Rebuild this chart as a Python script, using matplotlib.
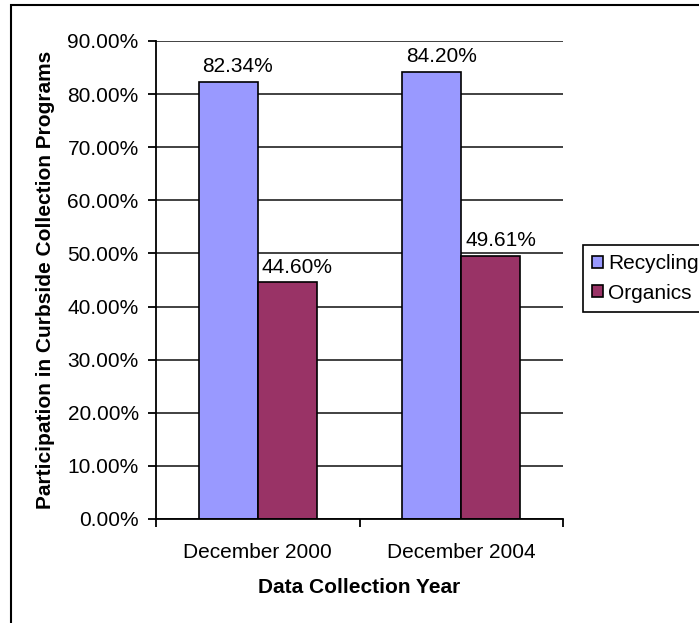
import matplotlib
matplotlib.use("Agg")
import matplotlib.pyplot as plt
from matplotlib.patches import Rectangle
from matplotlib.ticker import FuncFormatter

plt.rcParams['font.family'] = ['Liberation Sans', 'DejaVu Sans']

# data
categories = ['December 2000', 'December 2004']
series_names = ['Recycling', 'Organics']
recycling = [82.34, 84.20]
organics = [44.60, 49.61]
y_ticks = [0, 10, 20, 30, 40, 50, 60, 70, 80, 90]

colors = ['#9999FF', '#993366']
fs = 15

fig = plt.figure(figsize=(6.99, 6.23), dpi=100)
ax = fig.add_axes([156 / 699, 1 - 519 / 623, (563 - 156) / 699, (519 - 41) / 623])

width = 0.29
x = range(len(categories))
bars = []
for i, (vals, name) in enumerate(zip([recycling, organics], series_names)):
    offs = (i - 0.5) * width
    b = ax.bar([xi + offs for xi in x], vals, width=width, color=colors[i],
               edgecolor='black', linewidth=1.2, label=name, zorder=3)
    bars.append(b)
    for rect, v in zip(b, vals):
        ax.annotate(f'{v:.2f}%', (rect.get_x() + rect.get_width() / 2, v),
                    xytext=(7, 4), textcoords='offset points',
                    ha='center', va='bottom', fontsize=fs, zorder=4)

ax.set_xlim(-0.5, 1.5)
ax.set_ylim(0, 90)
ax.set_yticks(y_ticks)
ax.yaxis.set_major_formatter(FuncFormatter(lambda v, p: f'{v:.2f}%'))
ax.yaxis.grid(True, color='#333333', linewidth=1.3, zorder=0)
ax.set_xticks([-0.5, 0.5, 1.5])
ax.set_xticklabels([])
ax.set_xticks([0, 1], minor=True)
ax.set_xticklabels(categories, minor=True)
ax.tick_params(axis='x', which='minor', length=0, labelsize=fs, pad=17)
ax.tick_params(axis='x', which='major', length=6, width=1.3, direction='out')
ax.tick_params(axis='y', length=6, width=1.3, direction='out', labelsize=fs, pad=6.5)

for s in ['top', 'right']:
    ax.spines[s].set_visible(False)
for s in ['left', 'bottom']:
    ax.spines[s].set_linewidth(1.3)
    ax.spines[s].set_zorder(5)

ax.set_xlabel('Data Collection Year', fontsize=fs, fontweight='bold')
ax.xaxis.set_label_coords(0.5, (519 - 578) / 478)
ax.set_ylabel('Participation in Curbside Collection Programs', fontsize=fs,
              fontweight='bold')
ax.yaxis.set_label_coords((55 - 156) / 407, 0.5)

leg = fig.legend(handles=bars, labels=series_names, loc='upper left',
                 bbox_to_anchor=(583 / 699, 1 - 245 / 623), fontsize=fs,
                 handlelength=0.5, handleheight=0.5, handletextpad=0.25,
                 borderpad=0.45, labelspacing=0.5, borderaxespad=0,
                 fancybox=False, framealpha=1)
leg.get_frame().set_edgecolor('black')
leg.get_frame().set_linewidth(1.2)

# outer chart border, cut off at the right and bottom like the original
fig.patches.append(Rectangle((11 / 699, -0.1), 1.2, 1.1 - 5 / 623,
                             transform=fig.transFigure, fill=False,
                             edgecolor='black', linewidth=1.5))

fig.savefig('out.png', dpi=100)
